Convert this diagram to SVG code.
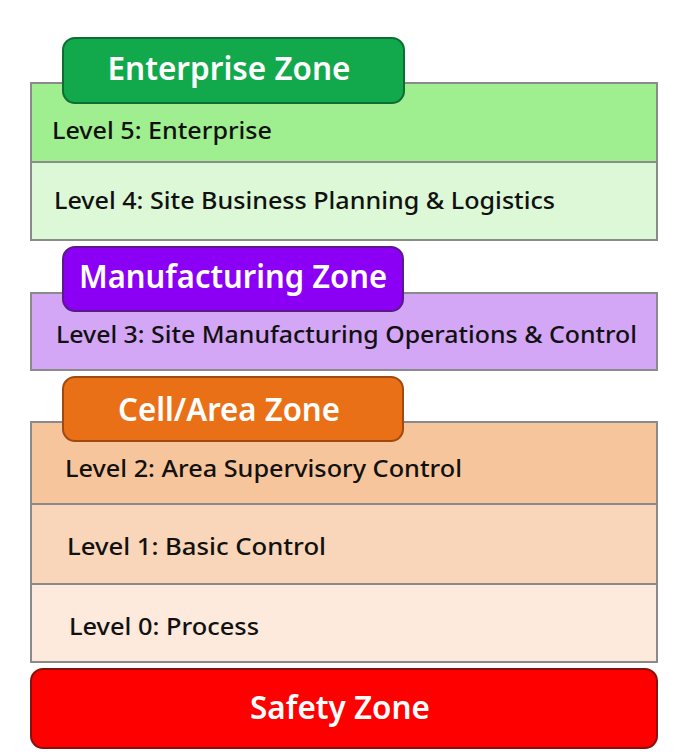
<svg xmlns="http://www.w3.org/2000/svg" width="700" height="756" viewBox="0 0 700 756">
<style>
.band{stroke:#8a8a8a;stroke-width:2}
.tab{stroke-width:2}
.lvl{font-family:"Noto Sans","DejaVu Sans",sans-serif;font-size:24px;font-weight:500;fill:#111}
.zone{font-family:"Noto Sans","DejaVu Sans",sans-serif;font-size:32px;font-weight:600;fill:#fff}
</style>
<rect width="700" height="756" fill="#fff"/>
<g id="enterprise">
<rect class="band" x="31" y="83" width="626" height="79" fill="#9fee90"/>
<rect class="band" x="31" y="162" width="626" height="78" fill="#dcf8d7"/>
<rect class="tab" x="63" y="38" width="341" height="65" rx="12" fill="#12a94c" stroke="#0d6e33"/>
<text class="zone" x="229" y="80" text-anchor="middle" textLength="243" lengthAdjust="spacingAndGlyphs">Enterprise Zone</text>
<text class="lvl" x="52" y="139" textLength="220" lengthAdjust="spacingAndGlyphs">Level 5: Enterprise</text>
<text class="lvl" x="54" y="209" textLength="501" lengthAdjust="spacingAndGlyphs">Level 4: Site Business Planning &amp; Logistics</text>
</g>
<g id="manufacturing">
<rect class="band" x="31" y="293" width="626" height="77" fill="#d4a6f6"/>
<rect class="tab" x="63" y="247" width="340" height="64" rx="12" fill="#8b00f5" stroke="#5a1a8a"/>
<text class="zone" x="233" y="288" text-anchor="middle" textLength="308" lengthAdjust="spacingAndGlyphs">Manufacturing Zone</text>
<text class="lvl" x="56" y="343" textLength="581" lengthAdjust="spacingAndGlyphs">Level 3: Site Manufacturing Operations &amp; Control</text>
</g>
<g id="cellarea">
<rect class="band" x="31" y="422" width="626" height="82" fill="#f7c59b"/>
<rect class="band" x="31" y="504" width="626" height="80" fill="#f9d6b9"/>
<rect class="band" x="31" y="584" width="626" height="78" fill="#fdeadd"/>
<rect class="tab" x="63" y="377" width="340" height="64" rx="12" fill="#ea7018" stroke="#a04a10"/>
<text class="zone" x="229" y="421" text-anchor="middle" textLength="222" lengthAdjust="spacingAndGlyphs">Cell/Area Zone</text>
<text class="lvl" x="65" y="477" textLength="397" lengthAdjust="spacingAndGlyphs">Level 2: Area Supervisory Control</text>
<text class="lvl" x="67" y="555" textLength="259" lengthAdjust="spacingAndGlyphs">Level 1: Basic Control</text>
<text class="lvl" x="69" y="635" textLength="190" lengthAdjust="spacingAndGlyphs">Level 0: Process</text>
</g>
<g id="safety">
<rect x="31" y="669" width="626" height="79" rx="12" fill="#ff0000" stroke="#8a1010" stroke-width="2"/>
<text class="zone" x="340" y="719" text-anchor="middle" textLength="180" lengthAdjust="spacingAndGlyphs">Safety Zone</text>
</g>
<g id="connectors"/>
</svg>
